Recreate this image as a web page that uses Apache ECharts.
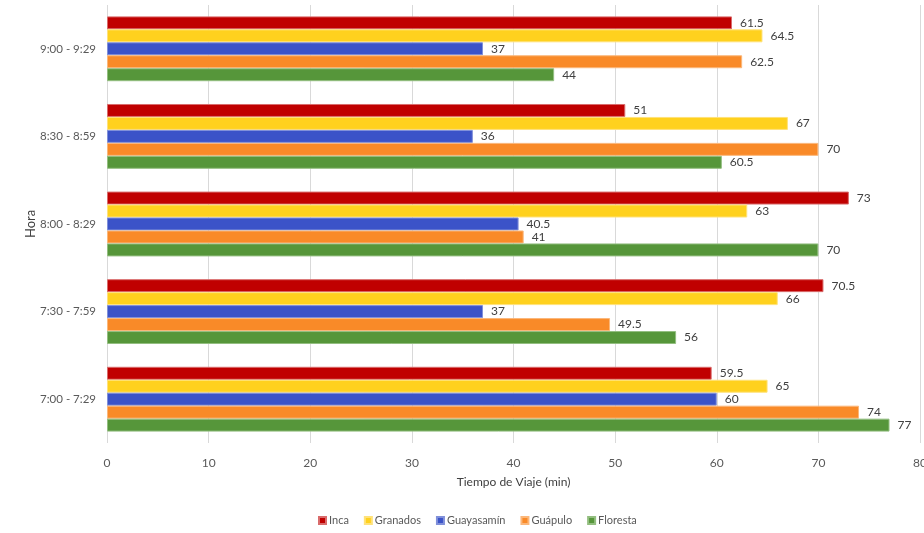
<!DOCTYPE html>
<html>
<head>
<meta charset="utf-8">
<script src="https://cdn.jsdelivr.net/npm/echarts@6/dist/echarts.min.js"></script>
<style>
  html, body { margin: 0; padding: 0; background: #ffffff; }
  #chart { width: 924px; height: 533px; }
</style>
</head>
<body>
<div id="chart"></div>
<script>
// Time slots, bottom to top
const horas = ['7:00 - 7:29', '7:30 - 7:59', '8:00 - 8:29', '8:30 - 8:59', '9:00 - 9:29'];

// Travel time (min) per route
const inca       = [59.5, 70.5, 73, 51, 61.5];
const granados   = [65, 66, 63, 67, 64.5];
const guayasamin = [60, 37, 40.5, 36, 37];
const guapulo    = [74, 49.5, 41, 70, 62.5];
const floresta   = [77, 56, 70, 60.5, 44];

const xTicks = [0, 10, 20, 30, 40, 50, 60, 70, 80];

const rutas = [
  { name: 'Inca',       data: inca,       color: '#C00000', border: '#D96B6B' },
  { name: 'Granados',   data: granados,   color: '#FFD11E', border: '#FFE27A' },
  { name: 'Guayasamín', data: guayasamin, color: '#3B53C8', border: '#8090DA' },
  { name: 'Guápulo',    data: guapulo,    color: '#F98A28', border: '#FBB77A' },
  { name: 'Floresta',   data: floresta,   color: '#56963A', border: '#93BE80' }
];

const font = 'Lato, "Open Sans", sans-serif';

const chart = echarts.init(document.getElementById('chart'), null, { renderer: 'canvas' });

chart.setOption({
  animation: false,
  textStyle: { fontFamily: font },
  grid: { left: 107, right: 4, top: 5, bottom: 90, containLabel: false, outerBoundsMode: 'none' },
  legend: {
    data: rutas.map(r => r.name),
    bottom: 2,
    left: 313,
    icon: 'rect',
    itemWidth: 7,
    itemHeight: 7,
    itemGap: 15,
    textStyle: { fontSize: 11, color: '#595959', fontFamily: font, padding: [0, 0, 0, -2] },
    padding: 5
  },
  xAxis: {
    type: 'value',
    min: xTicks[0],
    max: xTicks[xTicks.length - 1],
    interval: 10,
    name: 'Tiempo de Viaje (min)',
    nameLocation: 'middle',
    nameGap: 33,
    nameTextStyle: { fontSize: 12, color: '#404040', fontFamily: font },
    axisLine: { show: false },
    axisTick: { show: false },
    axisLabel: { fontSize: 12, color: '#595959', margin: 14, fontFamily: font },
    splitLine: { show: true, lineStyle: { color: '#D9D9D9', width: 1 } }
  },
  yAxis: {
    type: 'category',
    data: horas,
    name: 'Hora',
    nameLocation: 'middle',
    nameRotate: 90,
    nameGap: 70,
    nameMoveOverlap: false,
    nameTextStyle: { fontSize: 13, color: '#404040', fontFamily: font },
    axisLine: { show: false },
    axisTick: { show: false },
    axisLabel: { fontSize: 11.5, color: '#595959', margin: 11, fontFamily: font }
  },
  series: rutas.map(r => ({
    name: r.name,
    type: 'bar',
    data: r.data,
    barGap: '0%',
    barCategoryGap: '26%',
    itemStyle: { color: r.color, borderColor: r.border, borderWidth: 1 },
    label: {
      show: true,
      position: 'right',
      distance: 8,
      fontSize: 12,
      color: '#404040',
      fontFamily: font
    }
  }))
});
</script>
</body>
</html>
